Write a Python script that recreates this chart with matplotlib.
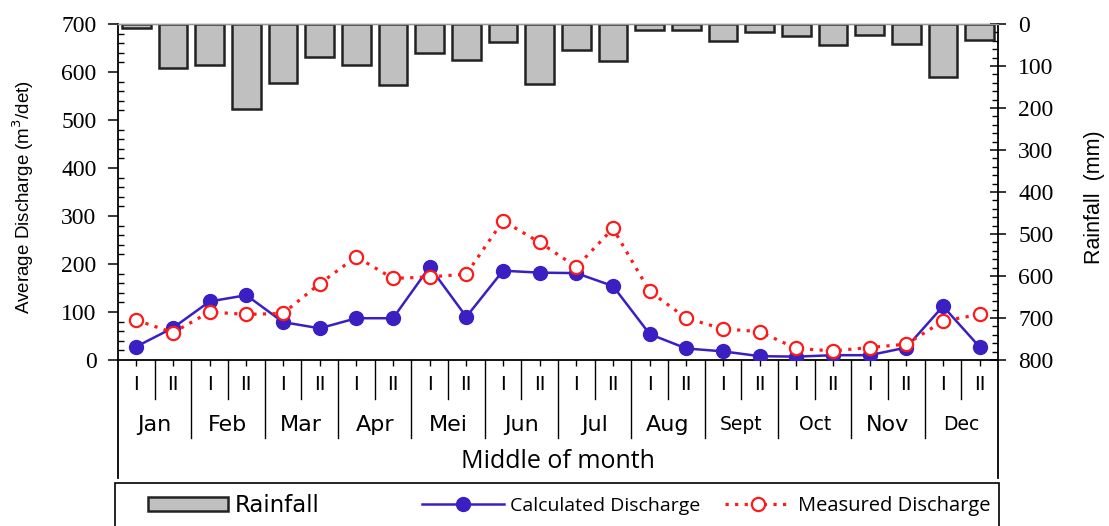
import matplotlib
matplotlib.use("Agg")
import matplotlib.pyplot as plt
from matplotlib.patches import Rectangle
from matplotlib.ticker import MultipleLocator
import matplotlib.transforms as mtransforms

# ---------------- data ----------------
months = ["Jan", "Feb", "Mar", "Apr", "Mei", "Jun", "Jul", "Aug", "Sept", "Oct", "Nov", "Dec"]
halves = ["I", "II"]
rainfall = [10, 105, 97, 202, 140, 79, 97, 145, 68, 85, 43, 144,
            61, 87, 15, 15, 41, 20, 29, 51, 26, 48, 125, 37]
calculated = [28, 67, 122, 135, 79, 66, 87, 87, 194, 90, 186, 182,
              181, 154, 54, 24, 18, 8, 7, 10, 10, 26, 112, 27]
measured = [83, 57, 100, 95, 97, 159, 215, 170, 173, 179, 290, 245,
            194, 274, 143, 87, 65, 59, 24, 19, 26, 33, 81, 95]

# ---------------- style ----------------
W, H = 1109, 526
DPI = 100
BLUE = "#3a1fc2"
RED = "#ff1a1a"
BAR_FACE = "#c0c0c0"
BAR_EDGE = "#222222"
SERIF = ["Liberation Serif", "DejaVu Serif"]
SANS = ["Liberation Sans", "DejaVu Sans"]
WIDE = ["DejaVu Sans"]
HUMAN = ["Open Sans", "DejaVu Sans"]
small_months = {"Sept": 13.5, "Oct": 13.5, "Dec": 13.5}

fig = plt.figure(figsize=(W / DPI, H / DPI), dpi=DPI)
L, R, T, B = 118, 998, 24, 360
ax = fig.add_axes([L / W, 1 - B / H, (R - L) / W, (B - T) / H])
ax2 = ax.twinx()

x = list(range(len(calculated)))

# rainfall bars hanging from the top (inverted right axis)
bars = ax2.bar(x, rainfall, width=0.78, color=BAR_FACE, edgecolor=BAR_EDGE,
               linewidth=1.8, zorder=2)
ax2.set_ylim(800, 0)

# discharge lines
calc_line, = ax.plot(x, calculated, color=BLUE, lw=1.8, marker="o", ms=10,
                     mfc=BLUE, mec=BLUE, zorder=3)
meas_line, = ax.plot(x, measured, color=RED, lw=2.3, ls=(0, (1, 2)), marker="o",
                     ms=9.5, mfc="white", mec=RED, mew=1.6, zorder=4)

ax.set_xlim(-0.5, len(x) - 0.5)
ax.set_ylim(0, 700)

# ---------------- axes styling ----------------
for a in (ax, ax2):
    a.spines["top"].set_color("#9a9a9a")
    a.spines["top"].set_linewidth(1.0)
ax.spines["right"].set_visible(False)
ax2.spines["left"].set_visible(False)
ax2.spines["bottom"].set_visible(False)
ax.spines["left"].set_linewidth(1.3)
ax.spines["bottom"].set_linewidth(1.3)
ax2.spines["right"].set_linewidth(1.3)

ax.yaxis.set_major_locator(MultipleLocator(100))
ax.yaxis.set_minor_locator(MultipleLocator(20))
ax2.yaxis.set_major_locator(MultipleLocator(100))
ax2.yaxis.set_minor_locator(MultipleLocator(20))

ax.tick_params(axis="y", which="major", direction="out", length=7.5, width=1.1,
               pad=8, labelsize=17)
ax.tick_params(axis="y", which="minor", direction="in", length=4, width=1.0)
ax2.tick_params(axis="y", which="major", direction="inout", length=11, width=1.1,
                pad=9, labelsize=17)
ax2.tick_params(axis="y", which="minor", direction="in", length=4, width=1.0)
for lab in ax.get_yticklabels() + ax2.get_yticklabels():
    lab.set_family(SERIF)

ax.set_xticks(x)
ax.set_xticklabels([])
ax.tick_params(axis="x", which="major", direction="out", length=4, width=1.0)

ax.set_ylabel("Average Discharge (m$^3$/det)", fontsize=13.5, family=SANS, va="center")
ax.yaxis.set_label_coords(-0.108, 0.485)
ax2.set_ylabel("Rainfall  (mm)", fontsize=15.5, family=SANS, va="center", rotation=90)
ax2.yaxis.set_label_coords(1.110, 0.485)

# ---------------- category axis below ----------------
trans = mtransforms.blended_transform_factory(ax.transData, ax.transAxes)
ax_h = B - T
def ypix(py):
    return (B - py) / ax_h

for i in range(len(x)):
    ax.text(i, ypix(384), halves[i % 2], transform=trans, ha="center", va="center",
            fontsize=15, family=SANS)
for m, name in enumerate(months):
    ax.text(2 * m + 0.5, ypix(425), name, transform=trans, ha="center", va="center",
            fontsize=small_months.get(name, 16), family=WIDE)
    # divider between halves
    ax.plot([2 * m + 0.5, 2 * m + 0.5], [0, ypix(399)], transform=trans,
            color="black", lw=1.0, clip_on=False)
    if m > 0:
        ax.plot([2 * m - 0.5, 2 * m - 0.5], [0, ypix(438)], transform=trans,
                color="black", lw=1.0, clip_on=False)
for edge in (-0.5, len(x) - 0.5):
    ax.plot([edge, edge], [0, ypix(478)], transform=trans, color="black",
            lw=1.3, clip_on=False)

ax.text(0.5, ypix(461), "Middle of month", transform=ax.transAxes, ha="center",
        va="center", fontsize=18, family=HUMAN)

# ---------------- legend ----------------
fig.patches.append(Rectangle((115 / W, -0.05), (999 - 115) / W, 0.05 + 1 - 483 / H,
                             transform=fig.transFigure, fill=False,
                             edgecolor="black", lw=1.2))
ly = 1 - 506 / H
leg_specs = [
    (bars, "Rainfall", 148, 16.5, WIDE, 3.5, 0.55),
    (calc_line, "Calculated Discharge", 422, 14, HUMAN, 4.2, 0.7),
    (meas_line, "Measured Discharge", 725, 14.5, HUMAN, 3.3, 0.7),
]
for h, lab, px, fs, fam, hl, hh in leg_specs:
    fig.legend([h], [lab], loc="center left", bbox_to_anchor=(px / W, ly),
               frameon=False, borderpad=0, borderaxespad=0, handlelength=hl,
               handleheight=hh, handletextpad=0.3, numpoints=1,
               prop={"family": fam, "size": fs})

fig.savefig("out.png", dpi=DPI)
